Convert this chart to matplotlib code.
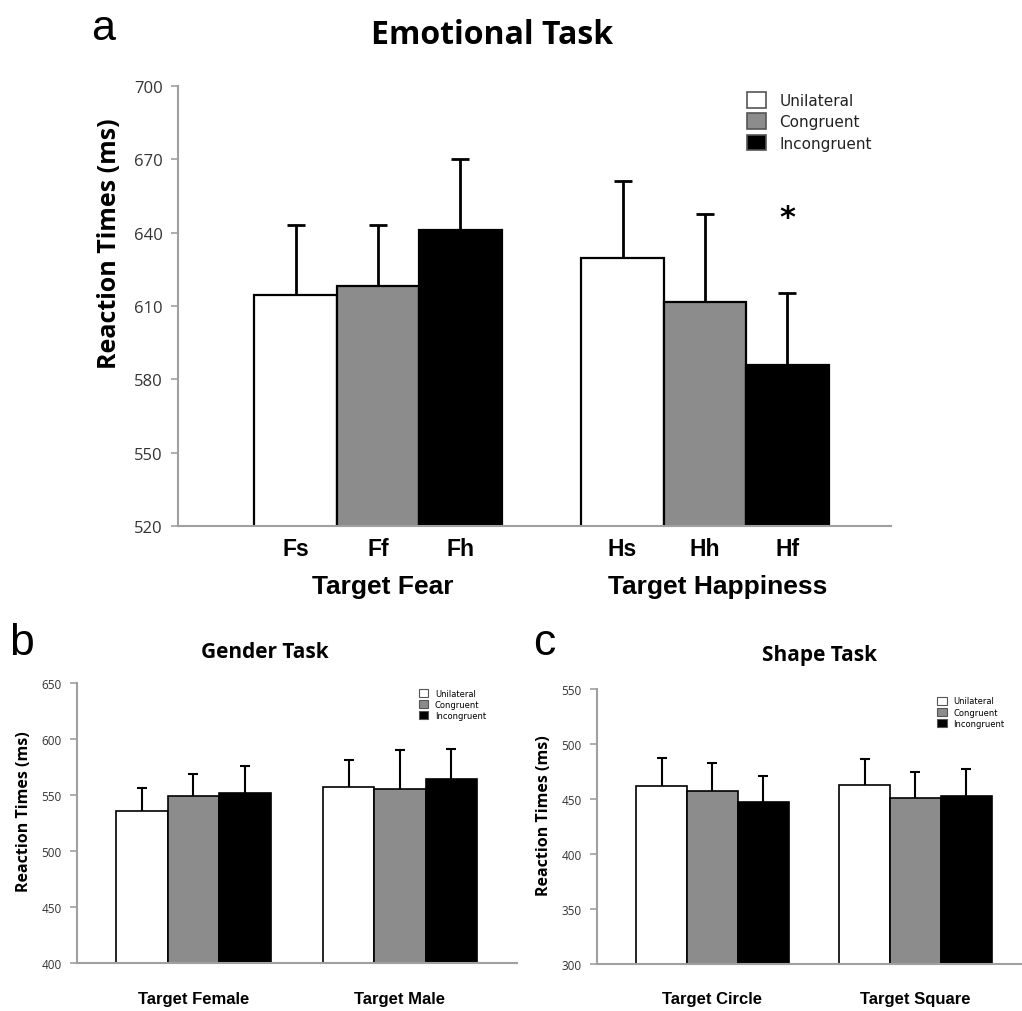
import matplotlib
matplotlib.use("Agg")
import matplotlib.pyplot as plt
from matplotlib.patches import Patch
import numpy as np

# ---------------- data ----------------
conditions = ["Unilateral", "Congruent", "Incongruent"]

a_groups = ["Target Fear", "Target Happiness"]
a_ticklabels = [["Fs", "Ff", "Fh"], ["Hs", "Hh", "Hf"]]
a_means = [[614.5, 618.0, 641.0], [629.5, 611.5, 586.0]]
a_err = [[28.5, 25.0, 29.0], [31.5, 36.0, 29.5]]

b_groups = ["Target Female", "Target Male"]
b_means = [[535.5, 549.0, 552.0], [557.0, 555.5, 564.0]]
b_err = [[21.0, 20.0, 23.5], [24.5, 35.0, 27.5]]

c_groups = ["Target Circle", "Target Square"]
c_means = [[461.5, 457.5, 447.0], [463.0, 451.0, 453.0]]
c_err = [[26.0, 25.5, 23.5], [23.5, 23.5, 24.0]]

colors = ["#ffffff", "#8c8c8c", "#000000"]

W, H = 1022, 1012
fig = plt.figure(figsize=(W / 100, H / 100), dpi=100)
fig.patch.set_facecolor("white")

TITLE_FONT = ["Open Sans", "DejaVu Sans"]
ARIAL = ["Liberation Sans", "DejaVu Sans"]


def px_axes(left, right, top, bottom):
    return fig.add_axes([left / W, 1 - bottom / H, (right - left) / W, (bottom - top) / H])


def draw_panel(ax, means, errs, ylim, yticks, xlim, bw, lw, elw, cap, tick_fs):
    for g in range(len(means)):
        for k in range(3):
            x = g + (k - 1) * bw
            ax.bar(x, means[g][k], width=bw, bottom=0, color=colors[k], edgecolor="black",
                   linewidth=lw, zorder=2)
            top = means[g][k] + errs[g][k]
            ax.errorbar(x, (means[g][k] + top) / 2, yerr=errs[g][k] / 2, fmt="none",
                        ecolor="black", elinewidth=elw, capsize=0, zorder=1)
            ax.plot([x], [top], marker="_", markersize=cap, markeredgewidth=elw,
                    color="black", zorder=1)
    ax.set_ylim(*ylim)
    ax.set_xlim(*xlim)
    ax.set_yticks(yticks)
    ax.set_yticklabels([str(t) for t in yticks], fontsize=tick_fs, color="#333333",
                       family=TITLE_FONT)
    for s in ["top", "right"]:
        ax.spines[s].set_visible(False)
    for s in ["left", "bottom"]:
        ax.spines[s].set_color("#a0a0a0")
        ax.spines[s].set_linewidth(1.5)
    ax.tick_params(axis="y", direction="out", color="#a0a0a0", length=5, width=1.2, pad=6)
    ax.tick_params(axis="x", length=0)
    ax.set_facecolor("none")


# ---------------- panel a ----------------
axa = px_axes(178, 891, 87, 527)
draw_panel(axa, a_means, a_err, (520, 700), [520, 550, 580, 610, 640, 670, 700],
           (-0.612, 1.569), 0.252, 1.6, 2.0, 13, 12)
xt = []
xl = []
for g in range(2):
    for k in range(3):
        xt.append(g + (k - 1) * 0.252)
        xl.append(a_ticklabels[g][k])
axa.set_xticks(xt)
axa.set_xticklabels(xl, fontsize=16.5, fontweight="bold", family=ARIAL)
axa.tick_params(axis="x", pad=8)
axa.set_ylabel("Reaction Times (ms)", fontsize=18, fontweight="bold", family=TITLE_FONT)
axa.yaxis.set_label_coords(-0.078, 0.645)
group_shift = [0.015, 0.04]
for g in range(2):
    axa.text(g + group_shift[g], -0.108, a_groups[g], transform=axa.get_xaxis_transform(),
             ha="center", va="top", fontsize=19, fontweight="bold", family=ARIAL)
axa.text(1.252, 646, "*", ha="center", va="center", fontsize=22, fontweight="bold")
fig.text(492 / W, 1 - 35 / H, "Emotional Task", ha="center", va="center", fontsize=23,
         fontweight="bold", family=TITLE_FONT)
fig.text(91 / W, 1 - 40 / H, "a", ha="left", va="baseline", fontsize=31, family=ARIAL)
handles = [Patch(facecolor=c, edgecolor="#555555", linewidth=1.2) for c in colors]
leg = axa.legend(handles, conditions, loc="upper left", bbox_to_anchor=(0.79, 1.0),
                 frameon=False, fontsize=11, handlelength=1.2, handleheight=1.2,
                 handletextpad=0.9, labelspacing=0.35, borderaxespad=0)
for t in leg.get_texts():
    t.set_color("#222222")

# ---------------- panel b ----------------
axb = px_axes(77, 517, 684, 964)
draw_panel(axb, b_means, b_err, (400, 650), [400, 450, 500, 550, 600, 650],
           (-0.564, 1.567), 0.249, 1.2, 1.5, 7, 8.5)
axb.set_xticks([])
axb.set_ylabel("Reaction Times (ms)", fontsize=11.5, fontweight="bold", family=TITLE_FONT)
axb.yaxis.set_label_coords(-0.102, 0.543)
for g in range(2):
    axb.text(g, -0.10, b_groups[g], transform=axb.get_xaxis_transform(),
             ha="center", va="top", fontsize=12, fontweight="bold", family=ARIAL)
fig.text(265 / W, 1 - 652 / H, "Gender Task", ha="center", va="center", fontsize=15,
         fontweight="bold", family=TITLE_FONT)
fig.text(9 / W, 1 - 655 / H, "b", ha="left", va="baseline", fontsize=32, family=ARIAL)
handles = [Patch(facecolor=c, edgecolor="#555555", linewidth=0.8) for c in colors]
axb.legend(handles, conditions, loc="upper left", bbox_to_anchor=(0.77, 0.99),
           frameon=False, fontsize=6, handlelength=1.1, handleheight=1.1,
           handletextpad=0.8, labelspacing=0.25, borderaxespad=0)

# ---------------- panel c ----------------
axc = px_axes(597, 1021, 690, 965)
draw_panel(axc, c_means, c_err, (300, 550), [300, 350, 400, 450, 500, 550],
           (-0.569, 1.52), 0.251, 1.2, 1.5, 7, 8.5)
axc.set_xticks([])
axc.set_ylabel("Reaction Times (ms)", fontsize=11.5, fontweight="bold", family=TITLE_FONT)
axc.yaxis.set_label_coords(-0.106, 0.542)
for g in range(2):
    axc.text(g, -0.10, c_groups[g], transform=axc.get_xaxis_transform(),
             ha="center", va="top", fontsize=12, fontweight="bold", family=ARIAL)
fig.text(820 / W, 1 - 655 / H, "Shape Task", ha="center", va="center", fontsize=15,
         fontweight="bold", family=TITLE_FONT)
fig.text(533 / W, 1 - 655 / H, "c", ha="left", va="baseline", fontsize=32, family=ARIAL)
axc.legend(handles, conditions, loc="upper left", bbox_to_anchor=(0.795, 0.985),
           frameon=False, fontsize=6, handlelength=1.1, handleheight=1.1,
           handletextpad=0.8, labelspacing=0.25, borderaxespad=0)

fig.savefig("out.png", dpi=100, facecolor="white")
